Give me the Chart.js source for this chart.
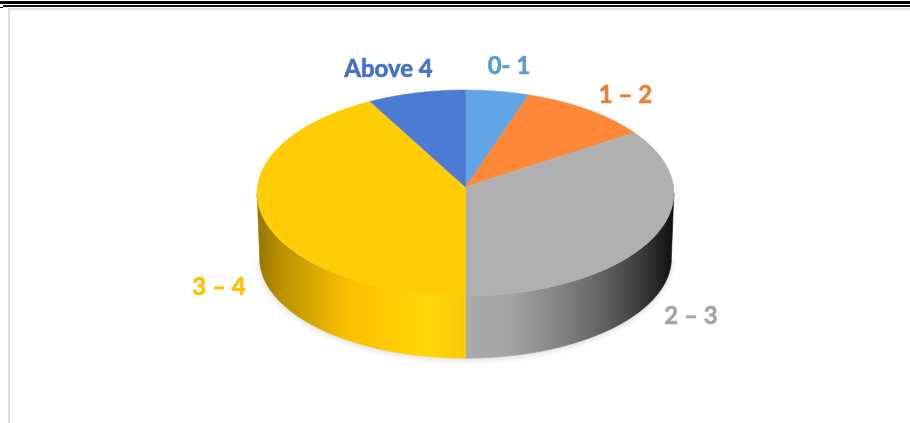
<!DOCTYPE html>
<html>
<head>
<meta charset="utf-8">
<title>Pie</title>
<script src="https://cdn.jsdelivr.net/npm/chart.js@4"></script>
<style>
    html, body { margin: 0; padding: 0; background: #fff; }
    #wrap { position: relative; width: 910px; height: 423px; overflow: hidden; }
    #myChart { position: absolute; left: 0; top: 0; }
    .rule { position: absolute; }
</style>
</head>
<body>
<div id="wrap">
    <canvas id="myChart" width="910" height="423"></canvas>
    <div class="rule" style="left:0;top:1px;width:910px;height:3px;background:#000"></div>
    <div class="rule" style="left:3px;top:5px;width:907px;height:2px;background:#111"></div>
    <div class="rule" style="left:0;top:7px;width:3px;height:1px;background:#000"></div>
    <div class="rule" style="left:8px;top:8px;width:902px;height:2px;background:#e2e2e2"></div>
    <div class="rule" style="left:8px;top:8px;width:2px;height:415px;background:#dcdcdc"></div>
</div>
<script>
const labels = ['0- 1', '1 – 2', '2 – 3', '3 – 4', 'Above 4'];
const values = [5.2, 10.6, 34.2, 42, 8];

const topColors = ['#62a5e6', '#fe8838', '#b0b0b0', '#ffcd05', '#4b7bd2'];
const labelColors = ['#5b9bd5', '#ed7d31', '#a5a5a5', '#ffc000', '#4472c4'];

// label centres on the page
const labelAnchors = [[509, 66], [625.5, 95], [691, 316], [219, 287], [388.5, 69]];

// rim shading, left to right along x
const sideStops = {
    2: [[465, '#ababab'], [510, '#a4a4a4'], [550, '#8a8a8a'], [585, '#707070'], [617, '#555555'], [650, '#303030'], [674, '#0f0f0f']],
    3: [[257, '#957500'], [280, '#b89000'], [313, '#d8a800'], [347, '#fbbf00'], [387, '#ffcb02'], [430, '#ffd60a'], [465, '#fdc90a']]
};

// tilted disc: perspective makes the front half a bit deeper than the back
const cx = 465.5, apexY = 187, radiusX = 208, radiusY = 102.6, persp = 0.0582;
const depth = 65.5, bottomX = 0.988, bottomY = 0.97;

function project(angle)
{
    const u = Math.cos(angle);
    const v = -Math.sin(angle);
    const w = 1 + persp * v;
    return {x: cx + radiusX * u / w, y: apexY - radiusY * v / w};
}

function projectBottom(angle)
{
    const p = project(angle);
    return {x: cx + (p.x - cx) * bottomX, y: apexY + (p.y - apexY) * bottomY + depth};
}

function rimSteps(start, end)
{
    const n = Math.max(2, Math.ceil((end - start) * 60));
    const list = [];
    for (let i = 0; i <= n; i++) {
        list.push(start + (end - start) * i / n);
    }
    return list;
}

function sideGradient(ctx, index)
{
    const stops = sideStops[index];
    const x0 = stops[0][0];
    const x1 = stops[stops.length - 1][0];
    const g = ctx.createLinearGradient(x0, 0, x1, 0);
    stops.forEach(s => g.addColorStop((s[0] - x0) / (x1 - x0), s[1]));
    return g;
}

// front of the disc between the two silhouette points
const sideFrom = Math.asin(persp);
const sideTo = Math.PI - sideFrom;

function drawSide(ctx, arc, index)
{
    const start = Math.max(arc.startAngle, sideFrom);
    const end = Math.min(arc.endAngle, sideTo);
    if (end <= start || !sideStops[index]) {
        return;
    }
    const angles = rimSteps(start, end);
    ctx.beginPath();
    angles.forEach((a, i) => {
        const p = project(a);
        if (i === 0) ctx.moveTo(p.x, p.y); else ctx.lineTo(p.x, p.y);
    });
    angles.slice().reverse().forEach(a => {
        const p = projectBottom(a);
        ctx.lineTo(p.x, p.y);
    });
    ctx.closePath();
    ctx.fillStyle = sideGradient(ctx, index);
    ctx.strokeStyle = ctx.fillStyle;
    ctx.lineWidth = 0.6;
    ctx.fill();
    ctx.stroke();
}

function drawTop(ctx, arc, index)
{
    ctx.beginPath();
    ctx.moveTo(cx, apexY);
    rimSteps(arc.startAngle, arc.endAngle).forEach(a => {
        const p = project(a);
        ctx.lineTo(p.x, p.y);
    });
    ctx.closePath();
    ctx.fillStyle = topColors[index];
    ctx.strokeStyle = topColors[index];
    ctx.lineWidth = 0.6;
    ctx.fill();
    ctx.stroke();
}

const tiltedPie = {
    id: 'tiltedPie',
    beforeDatasetsDraw(chart) {
        const ctx = chart.ctx;
        const arcs = chart.getDatasetMeta(0).data;

        // faint shadow under the disc
        ctx.save();
        ctx.shadowColor = 'rgba(0,0,0,0.18)';
        ctx.shadowBlur = 7;
        ctx.shadowOffsetY = 1;
        ctx.beginPath();
        rimSteps(sideFrom, sideTo).forEach((a, i) => {
            const p = projectBottom(a);
            if (i === 0) ctx.moveTo(p.x, p.y); else ctx.lineTo(p.x, p.y);
        });
        ctx.closePath();
        ctx.fillStyle = '#fff';
        ctx.fill();
        ctx.restore();

        ctx.save();
        // the 3 – 4 rim goes last so its edge sits on top at the seam
        arcs.forEach((arc, i) => drawSide(ctx, arc, i));
        arcs.forEach((arc, i) => drawTop(ctx, arc, i));
        ctx.restore();
        return false;
    },
    afterDraw(chart) {
        const ctx = chart.ctx;
        ctx.save();
        ctx.font = 'bold 24px Lato, "Open Sans", sans-serif';
        ctx.textAlign = 'center';
        ctx.textBaseline = 'middle';
        ctx.lineWidth = 0.6;
        labels.forEach((text, i) => {
            ctx.fillStyle = labelColors[i];
            ctx.strokeStyle = labelColors[i];
            ctx.fillText(text, labelAnchors[i][0], labelAnchors[i][1]);
            ctx.strokeText(text, labelAnchors[i][0], labelAnchors[i][1]);
        });
        ctx.restore();
    }
};

const myChart = new Chart(document.getElementById('myChart').getContext('2d'), {
    type: 'pie',
    data: {
        labels: labels,
        datasets: [{
            data: values,
            backgroundColor: topColors,
            borderWidth: 0
        }]
    },
    options: {
        responsive: false,
        animation: false,
        plugins: {
            legend: {display: false},
            tooltip: {enabled: false}
        }
    },
    plugins: [tiltedPie]
});
</script>
</body>
</html>
